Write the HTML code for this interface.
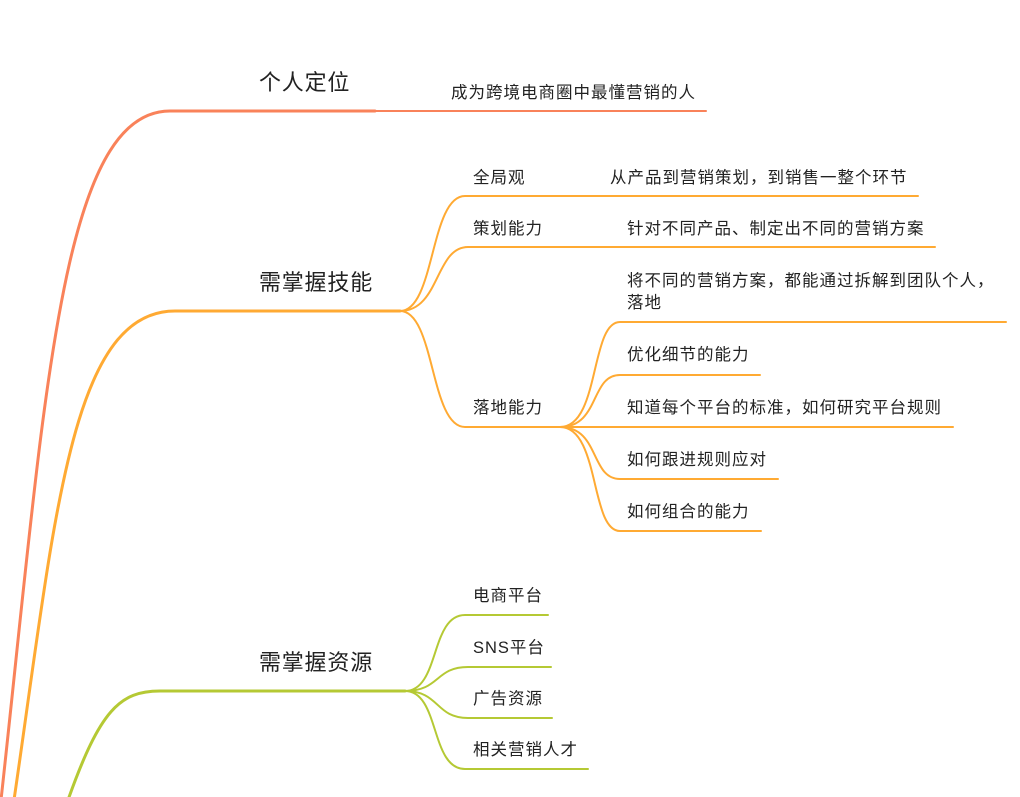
<!DOCTYPE html>
<html><head><meta charset="utf-8"><style>
html,body{margin:0;padding:0;background:#fff;width:1020px;height:797px;overflow:hidden}
svg{display:block}
text{font-family:"Liberation Sans","Noto Sans CJK SC",sans-serif;fill:#222}
.big{font-size:22px;letter-spacing:0.8px}
.s{font-size:16.5px;letter-spacing:1px}
</style></head><body>
<svg width="1020" height="797" viewBox="0 0 1020 797" xmlns="http://www.w3.org/2000/svg">
<g fill="none" stroke-linecap="round">
<path d="M1,800 C45,400 60,111 170,111 L375,111" stroke="#F9825A" stroke-width="3"/>
<path d="M375,111 L706,111" stroke="#F9825A" stroke-width="2"/>
<path d="M14,800 C55,520 70,311 175,311 L400,311" stroke="#FFAA33" stroke-width="3"/>
<g stroke="#FFAA33" stroke-width="2">
<path d="M400,311 C435,311 430,196 465,196 L918,196"/>
<path d="M400,311 C440,311 435,247 468,247 L935,247"/>
<path d="M400,311 C435,311 430,427 465,427 L560,427"/>
<path d="M560,427 C600,427 590,322 620,322 L1006,322"/>
<path d="M560,427 C600,427 590,375 620,375 L760,375"/>
<path d="M560,427 L953,427"/>
<path d="M560,427 C600,427 590,479 620,479 L778,479"/>
<path d="M560,427 C600,427 590,531 620,531 L761,531"/>
</g>
<path d="M68,800 C100,710 120,691 160,691 L405,691" stroke="#B5C934" stroke-width="3"/>
<g stroke="#B5C934" stroke-width="2">
<path d="M405,691 C440,691 430,615 465,615 L548,615"/>
<path d="M405,691 C440,691 435,667 468,667 L551,667"/>
<path d="M405,691 C440,691 435,718 468,718 L552,718"/>
<path d="M405,691 C440,691 430,769 465,769 L588,769"/>
</g>
</g>
<text class="big" x="259" y="90">个人定位</text>
<text class="s" x="451" y="98">成为跨境电商圈中最懂营销的人</text>
<text class="big" x="259" y="290">需掌握技能</text>
<text class="s" x="473" y="183">全局观</text>
<text class="s" x="610" y="183">从产品到营销策划，到销售一整个环节</text>
<text class="s" x="473" y="234">策划能力</text>
<text class="s" x="627" y="234">针对不同产品、制定出不同的营销方案</text>
<text class="s" x="627" y="286">将不同的营销方案，都能通过拆解到团队个人，</text>
<text class="s" x="627" y="308">落地</text>
<text class="s" x="473" y="413">落地能力</text>
<text class="s" x="627" y="360">优化细节的能力</text>
<text class="s" x="627" y="413">知道每个平台的标准，如何研究平台规则</text>
<text class="s" x="627" y="465">如何跟进规则应对</text>
<text class="s" x="627" y="517">如何组合的能力</text>
<text class="big" x="259" y="670">需掌握资源</text>
<text class="s" x="473" y="601">电商平台</text>
<text class="s" x="473" y="653">SNS平台</text>
<text class="s" x="473" y="704">广告资源</text>
<text class="s" x="473" y="755">相关营销人才</text>
</svg>
</body></html>
